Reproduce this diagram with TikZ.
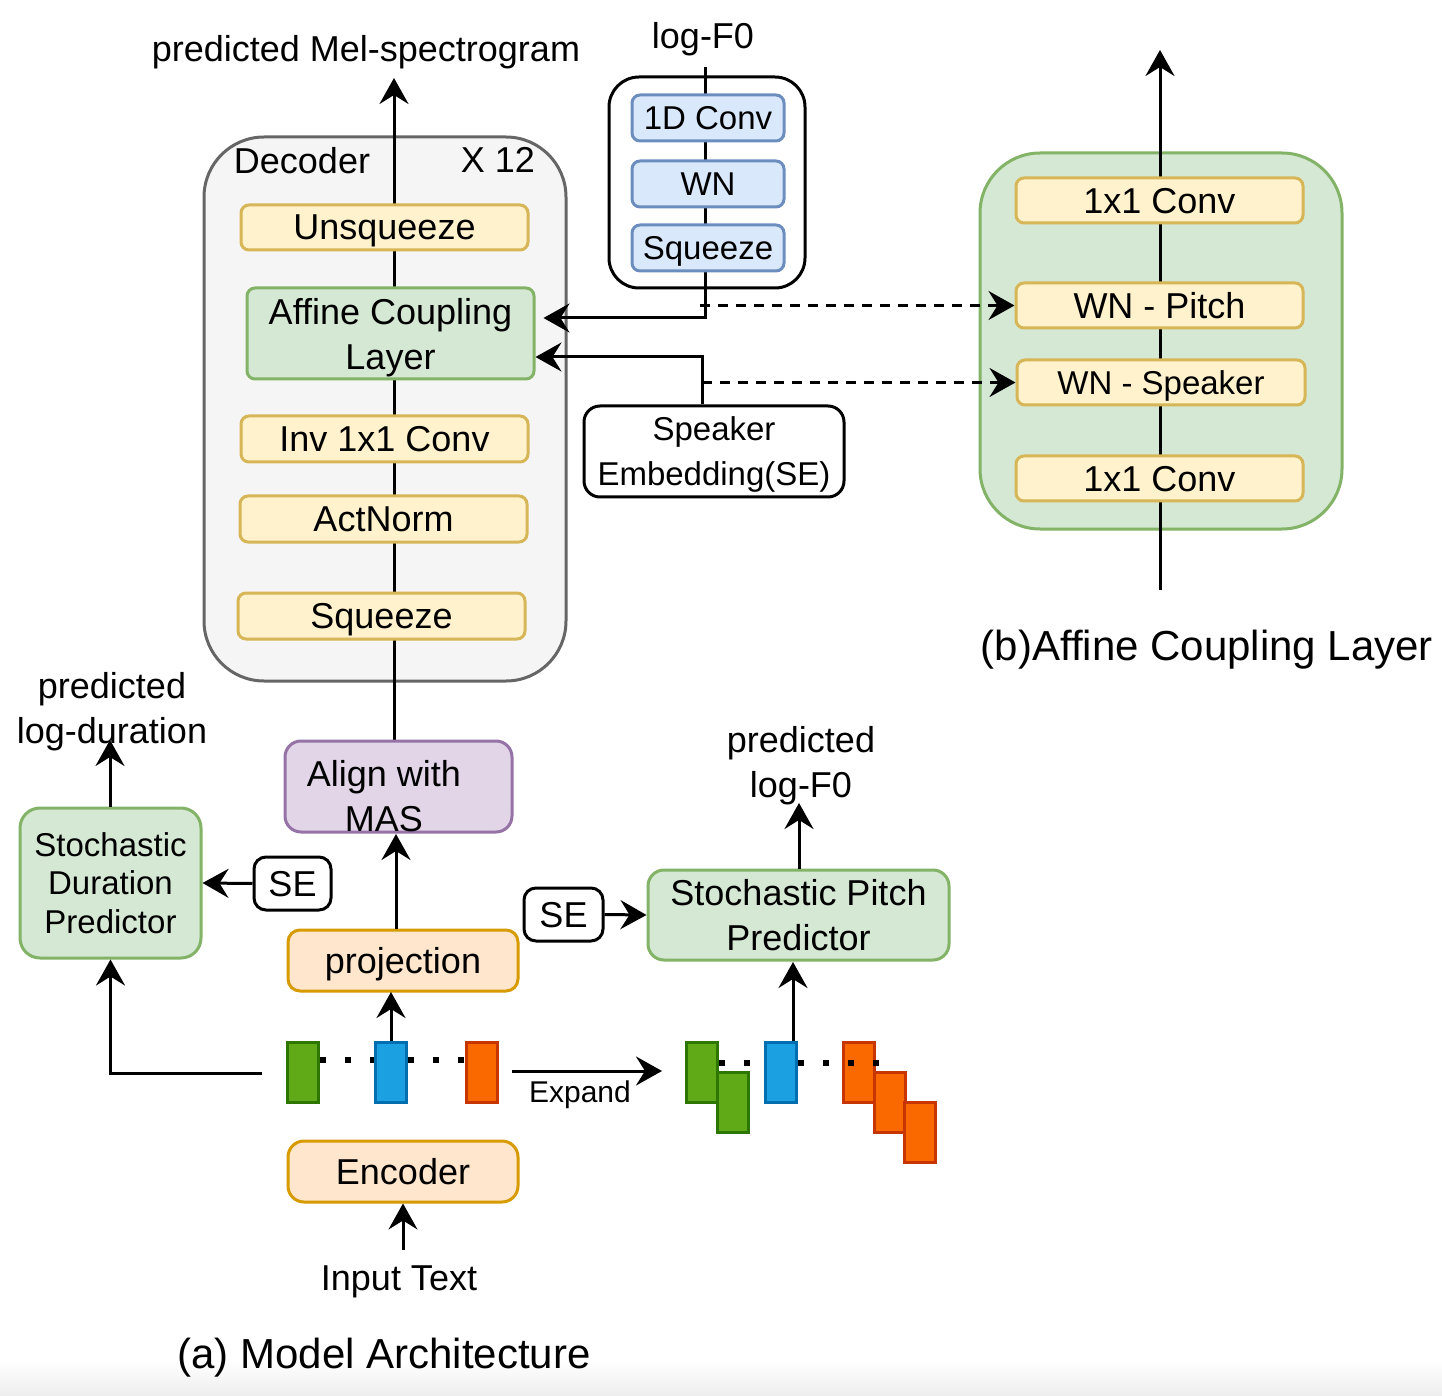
\documentclass[tikz,border=0pt]{standalone}
\usepackage{fontspec}
\setmainfont{Liberation Sans}
\usetikzlibrary{arrows.meta}
\pgfdeclarelayer{back}
\pgfdeclarelayer{mid}
\pgfsetlayers{back,mid,main}
\definecolor{yfill}{HTML}{FFF2CC}\definecolor{ystroke}{HTML}{D6B656}
\definecolor{gfill}{HTML}{D5E8D4}\definecolor{gstroke}{HTML}{82B366}
\definecolor{bfill}{HTML}{DAE8FC}\definecolor{bstroke}{HTML}{6C8EBF}
\definecolor{pfill}{HTML}{E1D5E7}\definecolor{pstroke}{HTML}{9673A6}
\definecolor{ofill}{HTML}{FFE6CC}\definecolor{ostroke}{HTML}{D79B00}
\definecolor{grfill}{HTML}{F5F5F5}\definecolor{grstroke}{HTML}{666666}
\definecolor{barG}{HTML}{60A917}\definecolor{barGs}{HTML}{2D7600}
\definecolor{barB}{HTML}{1BA1E2}\definecolor{barBs}{HTML}{006EAF}
\definecolor{barO}{HTML}{FA6800}\definecolor{barOs}{HTML}{C73500}
\newcommand{\nodp}[1]{\raisebox{0pt}[\height][0pt]{#1}}
\begin{document}
\begin{tikzpicture}[x=0.5pt,y=-0.5pt,
  every node/.style={font=\fontsize{18}{22.5}\selectfont, inner sep=0pt, align=center},
  nd/.style={text depth=0pt},
  sz/.style 2 args={minimum width=#1*0.5pt, minimum height=#2*0.5pt},
  base/.style={shape=rectangle, line width=1.5pt, rounded corners=4pt},
  ybox/.style={base, draw=ystroke, fill=yfill},
  gbox/.style={base, draw=gstroke, fill=gfill},
  bbox/.style={base, draw=bstroke, fill=bfill},
  pbox/.style={base, draw=pstroke, fill=pfill},
  obox/.style={base, draw=ostroke, fill=ofill},
  wbox/.style={base, draw=black, fill=white},
  smallfont/.style={font=\fontsize{16.5}{19.25}\selectfont},
  midfont/.style={font=\fontsize{16.5}{22.5}\selectfont},
  capfont/.style={font=\fontsize{21}{25}\selectfont},
  barg/.style={shape=rectangle, line width=1.5pt, draw=barGs, fill=barG, sz={31}{60}},
  barb/.style={shape=rectangle, line width=1.5pt, draw=barBs, fill=barB, sz={31}{60}},
  baro/.style={shape=rectangle, line width=1.5pt, draw=barOs, fill=barO, sz={31}{60}},
  arr/.style={line width=1.5pt, -{Stealth[length=13pt,width=14.5pt,inset=4.5pt]}},
  darr/.style={line width=1.3pt, dash pattern=on 5pt off 4pt, -{Stealth[length=13pt,width=14.5pt,inset=4.5pt]}},
  dots/.style={line width=3pt, dash pattern=on 3pt off 9.5pt},
  ]
\useasboundingbox (0,0) rectangle (1442,1396);

\begin{pgfonlayer}{back}
  \fill[white] (0,0) rectangle (1442,1396);
  \shade[top color=white, bottom color=black!7] (0,1360) rectangle (1442,1396);
  \node[shape=rectangle, draw=grstroke, fill=grfill, line width=1.5pt, rounded corners=30pt, sz={362}{544}] (dec) at (385,409) {};
  \node[shape=rectangle, draw=black, fill=white, line width=1.5pt, rounded corners=15pt, sz={196}{211}] (pbx) at (707,182.5) {};
  \node[shape=rectangle, draw=gstroke, fill=gfill, line width=1.5pt, rounded corners=30pt, sz={362}{376}] (grn) at (1161,341) {};
\end{pgfonlayer}

% top labels
\node[nd] (mel) at (366,48) {predicted Mel-spectrogram};
\node[nd] (f0in) at (703,35) {log-F0};

% decoder
\node[nd] (decT) at (302,160) {Decoder};
\node[nd] (xT) at (498,160) {X 12};
\node[ybox, nd, sz={287}{45}] (unsq) at (384.5,227.5) {Unsqueeze};
\node[gbox, sz={287}{91}] (acl) at (390.5,333.5) {Affine Coupling\\\nodp{Layer}};
\node[ybox, nd, sz={287}{46}] (inv) at (384.5,439) {Inv 1x1 Conv};
\node[ybox, nd, sz={287}{46}] (act) at (383.5,519) {ActNorm};
\node[ybox, nd, sz={287}{46}] (sq) at (381.5,616) {Squeeze};

% pitch branch
\node[bbox, nd, midfont, sz={152}{46}] (conv) at (708,118) {1D Conv};
\node[bbox, nd, midfont, sz={152}{46}] (wn) at (708,184) {WN};
\node[bbox, nd, midfont, sz={152}{46}] (sqb) at (708,248) {Squeeze};
\node[wbox, midfont, rounded corners=8pt, sz={260}{91}] (se) at (714,451.5) {Speaker\\\nodp{Embedding(SE)}};

% right panel
\node[ybox, nd, sz={287}{45}] (c1) at (1159.5,200.5) {1x1 Conv};
\node[ybox, nd, sz={287}{45}] (wnp) at (1159.5,305.5) {WN - Pitch};
\node[ybox, nd, midfont, sz={288}{45}] (wns) at (1161,382.5) {WN - Speaker};
\node[ybox, nd, sz={287}{45}] (c2) at (1159.5,478.5) {1x1 Conv};
\node[capfont, nd] (capb) at (1207,645) {(b)Affine Coupling Layer};

% lower part
\node (pdur) at (112,708) {predicted\\\nodp{log-duration}};
\node[gbox, smallfont, rounded corners=10pt, sz={181}{150}] (sdp) at (110.5,883) {Stochastic\\Duration\\Predictor};
\node[wbox, nd, rounded corners=6pt, sz={77}{53}] (se1) at (292.5,883.5) {SE};
\node[pbox, rounded corners=8pt, sz={227}{91}] (align) at (398.5,786.5) {};
\node (alignT) at (384,796) {Align with\\MAS};
\node[obox, nd, rounded corners=6pt, sz={230}{61}] (proj) at (403,960.5) {projection};
\node[barg] (gA) at (302.5,1072) {};
\node[barb] (bA) at (390.5,1072) {};
\node[baro] (oA) at (482,1072) {};
\node[nd, font=\fontsize{15}{18}\selectfont] (expT) at (580,1092) {Expand};
\node[barg] (gB1) at (701.5,1072) {};
\node[barg] (gB2) at (732.5,1102.5) {};
\node[barb] (bB) at (780.5,1072) {};
\node[baro] (oB1) at (858.5,1072) {};
\node[baro] (oB2) at (889.5,1102) {};
\node[baro] (oB3) at (920,1132.5) {};
\node[gbox, rounded corners=8pt, sz={301}{90}] (spp) at (798.5,915) {Stochastic Pitch\\Predictor};
\node (pf0) at (801,762) {predicted\\\nodp{log-F0}};
\node[wbox, nd, rounded corners=6pt, sz={79}{53}] (se2) at (563.5,914.5) {SE};
\node[obox, nd, rounded corners=8pt, sz={230}{61}] (enc) at (403,1171.5) {Encoder};
\node[nd] (inp) at (399,1278) {Input Text};
\node[capfont, nd] (capa) at (384,1353) {(a) Model Architecture};

% dots
\draw[dots] (gA.east |- 0,1060) -- (bA.west |- 0,1060);
\draw[dots] (bA.east |- 0,1060) -- (oA.west |- 0,1060);
\draw[dots] (gB1.east |- 0,1063) -- (bB.west |- 0,1063);
\draw[dots] (bB.east |- 0,1063) -- (880,1063);

% coordinates
\coordinate (melTip) at (394,78);
\coordinate (f0top) at (705,67);
\coordinate (pj) at (705,318);
\coordinate (sej) at (702,357);
\coordinate (d1) at (700,305.5);
\coordinate (d2) at (702,382.5);
\coordinate (rb) at (1160,590);
\coordinate (rt) at (1160,50);
\coordinate (durTip) at (110,740);
\coordinate (a1) at (396,834);
\coordinate (a2) at (391,992);
\coordinate (l1) at (262,1073);
\coordinate (e1) at (512,1071);
\coordinate (e2) at (662,1071);
\coordinate (a3) at (793,962);
\coordinate (f0tip) at (799,803);
\coordinate (it) at (403,1250);

\begin{pgfonlayer}{mid}
  \draw[arr] (align.north -| melTip) -- (melTip);
  \draw[arr, shorten >=4pt] (f0top) -- (pj) -- (pj -| acl.east);
  \draw[arr] (se.north -| sej) -- (sej) -- (sej -| acl.east);
  \draw[darr] (d1) -- (wnp.west);
  \draw[darr] (d2) -- (wns.west);
  \draw[arr] (rb) -- (rt);
\end{pgfonlayer}

\draw[arr] (sdp.north -| durTip) -- (durTip);
\draw[arr] (se1.west) -- (sdp.east);
\draw[arr] (proj.north -| a1) -- (a1);
\draw[arr] (bA.north -| a2) -- (a2);
\draw[arr] (l1) -- (l1 -| sdp.south) -- (sdp.south);
\draw[arr] (e1) -- (e2);
\draw[arr] (bB.north -| a3) -- (a3);
\draw[arr] (spp.north -| f0tip) -- (f0tip);
\draw[arr] (se2.east) -- (spp.west);
\draw[arr] (it) -- (enc.south -| it);
\end{tikzpicture}
\end{document}
